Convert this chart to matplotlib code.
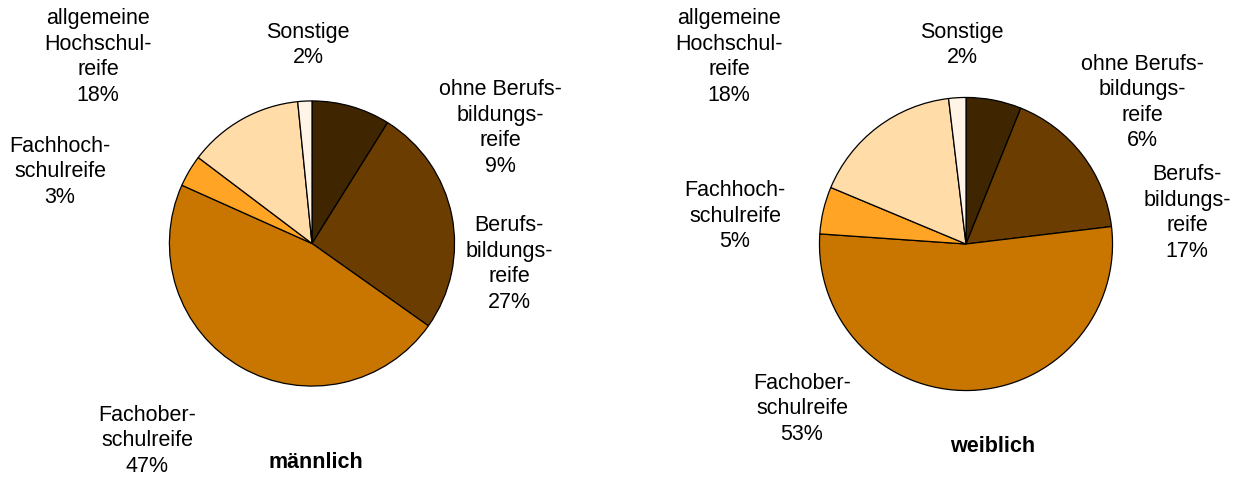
import matplotlib
matplotlib.use("Agg")
import matplotlib.pyplot as plt

W, H = 1239, 484
plt.rcParams['font.family'] = ['Liberation Sans', 'DejaVu Sans']

categories = ["ohne Berufsbildungsreife", "Berufsbildungsreife", "Fachoberschulreife",
              "Fachhochschulreife", "allgemeine Hochschulreife", "Sonstige"]
colors = ["#3F2500", "#6B3D00", "#C87600", "#FFA424", "#FFDCA8", "#FFF4E5"]

# slice shares as drawn
maennlich = [8.9, 25.9, 46.9, 3.6, 13.1, 1.6]
weiblich = [6.1, 17.0, 53.0, 5.2, 16.8, 1.9]

# data label texts as printed
label_names = ["ohne Berufs-\nbildungs-\nreife", "Berufs-\nbildungs-\nreife", "Fachober-\nschulreife",
               "Fachhoch-\nschulreife", "allgemeine\nHochschul-\nreife", "Sonstige"]
maennlich_pct = ["9%", "27%", "47%", "3%", "18%", "2%"]
weiblich_pct = ["6%", "17%", "53%", "5%", "18%", "2%"]

fig = plt.figure(figsize=(W / 100, H / 100), dpi=100)

def add_pie(cx, cy, r, values):
    ax = fig.add_axes([(cx - r) / W, 1 - (cy + r) / H, 2 * r / W, 2 * r / H])
    ax.pie(values, colors=colors, startangle=90, counterclock=False, radius=1,
           wedgeprops=dict(edgecolor="black", linewidth=0.9))
    ax.set_xlim(-1.01, 1.01)
    ax.set_ylim(-1.01, 1.01)
    ax.axis("off")
    return ax

add_pie(312, 243.5, 144, maennlich)
add_pie(966, 244, 148, weiblich)

fs = 15.5
def lab(x, y, name, pct):
    fig.text(x / W, 1 - y / H, name + "\n" + pct, ha="center", va="center",
             fontsize=fs, linespacing=1.28)

left_pos = [(500, 128), (509, 264), (147, 441), (60, 172), (98, 57), (308, 45)]
right_pos = [(1142, 102.5), (1187, 213), (802, 409), (735, 216), (729, 57), (962, 45)]
for (x, y), n, p in zip(left_pos, label_names, maennlich_pct):
    lab(x, y, n, p)
for (x, y), n, p in zip(right_pos, label_names, weiblich_pct):
    lab(x, y, n, p)

fig.text(316 / W, 1 - 462 / H, "männlich", ha="center", va="center", fontsize=fs, fontweight="bold")
fig.text(993 / W, 1 - 446 / H, "weiblich", ha="center", va="center", fontsize=fs, fontweight="bold")

fig.savefig("out.png", dpi=100)
